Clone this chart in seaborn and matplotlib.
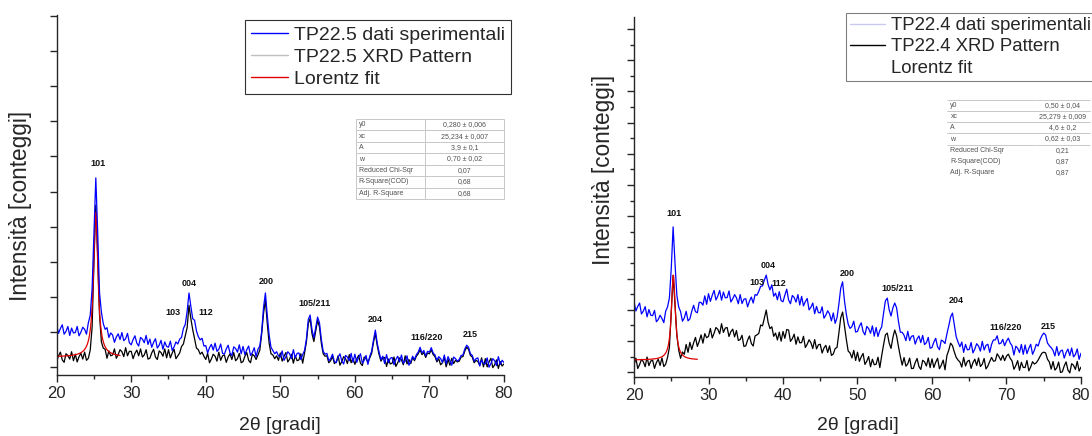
import numpy as np
import matplotlib
matplotlib.use("Agg")
import matplotlib.pyplot as plt
from matplotlib.lines import Line2D
import seaborn as sns

# ---------------------------------------------------------------- data
# 2-theta scan grid (degrees), 0.25 deg step
two_theta = np.round(np.arange(20.0, 80.0001, 0.25), 2)

# TP22.5 - experimental trace (blue)
tp225_exp = [
    1.06, 0.86, 0.98, 1.07, 0.84, 0.91, 1.03, 0.81, 0.99, 0.87,
    0.88, 1.03, 0.80, 0.89, 1.01, 0.96, 0.84, 1.12, 1.30, 1.95,
    3.30, 4.67, 3.35, 1.85, 1.38, 1.10, 0.96, 1.00, 0.76, 0.87,
    0.82, 0.64, 0.77, 0.85, 0.71, 0.88, 0.68, 0.73, 0.86, 0.63,
    0.58, 0.71, 0.80, 0.62, 0.55, 0.76, 0.72, 0.63, 0.81, 0.59,
    0.72, 0.52, 0.64, 0.73, 0.50, 0.57, 0.69, 0.47, 0.65, 0.54,
    0.52, 0.67, 0.44, 0.53, 0.65, 0.60, 0.72, 0.76, 0.98, 1.08,
    1.40, 1.85, 1.52, 1.22, 1.18, 0.92, 0.78, 0.70, 0.74, 0.55,
    0.56, 0.38, 0.51, 0.59, 0.45, 0.62, 0.42, 0.47, 0.60, 0.37,
    0.35, 0.48, 0.57, 0.38, 0.32, 0.53, 0.49, 0.40, 0.58, 0.36,
    0.54, 0.34, 0.46, 0.55, 0.32, 0.39, 0.51, 0.29, 0.47, 0.55,
    0.90, 1.50, 1.85, 1.30, 0.82, 0.52, 0.44, 0.36, 0.41, 0.31,
    0.28, 0.43, 0.20, 0.29, 0.41, 0.36, 0.24, 0.46, 0.26, 0.37,
    0.38, 0.22, 0.34, 0.44, 0.72, 1.20, 1.31, 0.95, 0.75, 1.00,
    1.26, 1.12, 0.72, 0.42, 0.35, 0.37, 0.19, 0.24, 0.35, 0.17,
    0.14, 0.27, 0.36, 0.18, 0.11, 0.32, 0.28, 0.19, 0.37, 0.15,
    0.35, 0.15, 0.27, 0.36, 0.13, 0.20, 0.32, 0.10, 0.30, 0.42,
    0.70, 0.94, 0.62, 0.40, 0.22, 0.30, 0.12, 0.34, 0.14, 0.25,
    0.27, 0.09, 0.22, 0.30, 0.16, 0.33, 0.13, 0.18, 0.31, 0.08,
    0.17, 0.30, 0.22, 0.34, 0.40, 0.52, 0.38, 0.44, 0.31, 0.42,
    0.40, 0.51, 0.38, 0.33, 0.20, 0.29, 0.24, 0.15, 0.33, 0.11,
    0.29, 0.19, 0.08, 0.28, 0.24, 0.18, 0.22, 0.32, 0.33, 0.48,
    0.57, 0.52, 0.36, 0.32, 0.18, 0.24, 0.26, 0.06, 0.21, 0.12,
    0.11, 0.26, 0.03, 0.12, 0.24, 0.19, 0.07, 0.29, 0.10, 0.20,
    0.15,
]

# TP22.5 - XRD pattern (black)
tp225_xrd = [
    0.18, 0.31, 0.40, 0.21, 0.15, 0.36, 0.32, 0.23, 0.41, 0.19,
    0.35, 0.16, 0.29, 0.37, 0.23, 0.40, 0.20, 0.25, 0.45, 1.00,
    2.60, 4.00, 2.80, 1.30, 0.65, 0.50, 0.47, 0.25, 0.43, 0.31,
    0.33, 0.48, 0.25, 0.34, 0.46, 0.41, 0.29, 0.51, 0.31, 0.42,
    0.42, 0.24, 0.37, 0.45, 0.31, 0.48, 0.28, 0.33, 0.46, 0.23,
    0.25, 0.38, 0.47, 0.28, 0.22, 0.43, 0.39, 0.30, 0.48, 0.26,
    0.46, 0.26, 0.38, 0.47, 0.24, 0.31, 0.38, 0.54, 0.60, 0.80,
    1.00, 1.55, 1.22, 0.95, 0.72, 0.50, 0.46, 0.35, 0.40, 0.30,
    0.22, 0.37, 0.14, 0.23, 0.35, 0.30, 0.18, 0.40, 0.20, 0.31,
    0.33, 0.15, 0.28, 0.36, 0.22, 0.39, 0.19, 0.24, 0.37, 0.14,
    0.17, 0.30, 0.39, 0.20, 0.14, 0.35, 0.31, 0.22, 0.33, 0.45,
    0.85, 1.35, 1.68, 1.10, 0.62, 0.36, 0.33, 0.24, 0.31, 0.20,
    0.38, 0.18, 0.30, 0.39, 0.16, 0.23, 0.35, 0.13, 0.31, 0.19,
    0.21, 0.36, 0.13, 0.38, 0.65, 1.10, 1.22, 0.85, 0.66, 0.92,
    1.18, 1.02, 0.62, 0.36, 0.30, 0.31, 0.14, 0.19, 0.30, 0.12,
    0.16, 0.31, 0.08, 0.17, 0.29, 0.24, 0.12, 0.34, 0.14, 0.25,
    0.10, 0.23, 0.32, 0.13, 0.07, 0.28, 0.24, 0.15, 0.26, 0.37,
    0.64, 0.86, 0.56, 0.34, 0.18, 0.26, 0.27, 0.05, 0.23, 0.11,
    0.13, 0.28, 0.05, 0.14, 0.26, 0.21, 0.09, 0.31, 0.11, 0.22,
    0.12, 0.27, 0.19, 0.30, 0.36, 0.46, 0.34, 0.39, 0.27, 0.38,
    0.36, 0.46, 0.34, 0.29, 0.16, 0.24, 0.09, 0.14, 0.27, 0.04,
    0.22, 0.08, 0.25, 0.12, 0.20, 0.16, 0.18, 0.28, 0.29, 0.43,
    0.52, 0.47, 0.32, 0.28, 0.14, 0.20, 0.17, 0.08, 0.26, 0.04,
    0.24, 0.04, 0.16, 0.25, 0.02, 0.09, 0.21, 0.00, 0.17, 0.06,
    0.11,
]

# TP22.4 - experimental trace (blue)
tp224_exp = [
    3.74, 3.23, 3.48, 3.67, 3.06, 3.22, 3.47, 2.90, 3.31, 2.99,
    2.97, 3.26, 2.63, 2.75, 2.99, 2.81, 2.58, 3.22, 3.45, 3.95,
    5.60, 7.90, 5.90, 4.10, 3.45, 3.19, 2.66, 2.84, 3.21, 2.68,
    2.79, 3.21, 3.54, 3.19, 3.13, 3.71, 3.70, 3.55, 4.07, 3.60,
    4.19, 3.76, 4.10, 4.37, 3.84, 4.06, 4.37, 3.83, 4.28, 3.96,
    3.97, 4.34, 3.73, 3.90, 4.14, 3.96, 3.63, 4.14, 3.64, 3.88,
    3.91, 3.46, 3.78, 4.00, 3.67, 4.14, 4.10, 4.32, 4.60, 4.62,
    4.95, 5.22, 4.70, 4.40, 4.68, 4.05, 4.22, 3.85, 4.30, 3.80,
    3.74, 4.11, 4.44, 3.84, 3.63, 4.09, 3.98, 3.72, 4.14, 3.56,
    4.04, 3.51, 3.75, 3.92, 3.29, 3.44, 3.67, 3.08, 3.48, 3.14,
    3.12, 3.46, 2.83, 3.00, 3.24, 3.06, 2.68, 3.12, 2.54, 2.85,
    3.60, 4.50, 4.85, 3.80, 3.05, 2.50, 2.26, 2.36, 2.66, 2.06,
    2.09, 2.38, 2.57, 2.09, 1.90, 2.37, 2.25, 1.99, 2.40, 1.83,
    2.31, 1.81, 2.15, 2.35, 3.10, 3.80, 3.94, 3.30, 2.95, 3.40,
    3.67, 3.40, 2.65, 2.05, 2.04, 1.88, 1.58, 2.10, 1.59, 1.82,
    1.86, 1.39, 1.68, 1.84, 1.47, 1.87, 1.36, 1.47, 1.76, 1.16,
    1.20, 1.50, 1.71, 1.24, 1.08, 1.61, 1.55, 1.42, 1.95, 2.40,
    2.90, 3.11, 2.45, 1.80, 1.50, 1.24, 1.50, 0.93, 1.37, 1.07,
    1.09, 1.48, 0.90, 1.12, 1.41, 1.28, 1.00, 1.54, 1.06, 1.32,
    1.38, 0.93, 1.38, 1.62, 1.62, 1.85, 1.40, 1.44, 1.65, 1.30,
    1.55, 1.72, 1.45, 1.30, 0.78, 1.27, 1.16, 0.92, 1.37, 0.82,
    1.34, 0.86, 1.15, 1.38, 0.82, 1.06, 1.38, 1.28, 1.62, 1.85,
    2.00, 1.90, 1.45, 1.30, 1.19, 1.04, 0.73, 1.25, 0.76, 1.00,
    1.06, 0.61, 0.92, 1.11, 0.75, 1.17, 0.68, 0.81, 1.12, 0.54,
    0.88,
]

# TP22.4 - XRD pattern (black)
tp224_xrd = [
    0.22, 0.61, 0.03, 0.25, 0.54, 0.41, 0.13, 0.67, 0.19, 0.45,
    0.49, 0.04, 0.36, 0.55, 0.20, 0.62, 0.14, 0.27, 0.65, 1.20,
    3.20, 5.20, 3.60, 1.90, 1.05, 0.60, 0.95, 0.82, 1.37, 0.93,
    1.49, 1.09, 1.46, 1.76, 1.26, 1.54, 1.90, 1.44, 1.97, 1.74,
    1.82, 2.26, 1.73, 2.00, 2.31, 2.21, 1.96, 2.52, 2.04, 2.28,
    2.31, 1.81, 2.08, 2.22, 1.79, 2.14, 1.59, 1.64, 1.88, 1.26,
    1.29, 1.61, 1.84, 1.42, 1.28, 1.84, 1.90, 1.98, 2.45, 2.40,
    2.85, 3.28, 2.60, 2.25, 2.35, 1.82, 2.00, 1.62, 2.05, 1.55,
    2.09, 1.71, 2.20, 2.17, 1.54, 1.69, 1.94, 1.38, 1.79, 1.46,
    1.47, 1.82, 1.20, 1.38, 1.63, 1.46, 1.14, 1.64, 1.12, 1.35,
    1.38, 0.89, 1.17, 1.32, 0.92, 1.29, 0.76, 0.84, 1.14, 1.20,
    2.00, 2.85, 3.17, 2.40, 1.65, 1.00, 0.90, 0.62, 1.04, 0.48,
    0.94, 0.43, 0.68, 0.87, 0.26, 0.44, 0.70, 0.13, 0.55, 0.24,
    0.27, 0.66, 0.08, 0.75, 1.35, 1.90, 2.00, 1.45, 1.15, 1.75,
    2.17, 1.85, 1.25, 0.70, 0.22, 0.64, 0.16, 0.29, 0.61, 0.03,
    0.04, 0.36, 0.59, 0.14, -0.02, 0.49, 0.40, 0.17, 0.62, 0.08,
    0.57, 0.09, 0.38, 0.60, 0.02, 0.22, 0.50, -0.04, 0.75, 1.05,
    1.44, 1.30, 0.95, 0.65, 0.50, 0.39, 0.11, 0.65, 0.17, 0.43,
    0.49, 0.04, 0.36, 0.55, 0.20, 0.62, 0.14, 0.27, 0.59, 0.01,
    0.17, 0.42, 0.65, 0.44, 0.46, 0.85, 0.69, 0.49, 0.77, 0.47,
    0.72, 0.83, 0.60, 0.45, -0.01, 0.19, 0.47, -0.07, 0.38, 0.09,
    0.09, 0.48, -0.10, 0.12, 0.41, 0.28, 0.35, 0.50, 0.70, 0.88,
    0.94, 0.90, 0.55, 0.40, 0.00, 0.42, -0.06, 0.07, 0.39, -0.19,
    -0.15, 0.17, 0.40, -0.05, -0.21, 0.30, 0.21, -0.02, 0.43, -0.11,
    0.11,
]

for _s in (tp225_exp, tp225_xrd, tp224_exp, tp224_xrd):
    assert len(_s) == len(two_theta)

# Lorentz fit of the anatase (101) reflection
fit_rows = ["y0", "xc", "A", "w", "Reduced Chi-Sqr", "R-Square(COD)", "Adj. R-Square"]
fit225_params = {"y0": 0.280, "xc": 25.234, "A": 3.9, "w": 0.70}
fit225_text = ["0,280 \u00b1 0,006", "25,234 \u00b1 0,007", "3,9 \u00b1 0,1",
               "0,70 \u00b1 0,02", "0,07", "0,68", "0,68"]
fit224_params = {"y0": 0.50, "xc": 25.279, "A": 4.6, "w": 0.62}
fit224_text = ["0,50 \u00b1 0,04", "25,279 \u00b1 0,009", "4,6 \u00b1 0,2",
               "0,62 \u00b1 0,03", "0,21", "0,87", "0,87"]
fit_range = (20.0, 28.5)

# Miller indices of the anatase reflections
hkl = ["101", "004", "103", "112", "200", "105/211", "204", "116/220", "215"]

legend225 = ["TP22.5 dati sperimentali", "TP22.5 XRD Pattern", "Lorentz fit"]
legend224 = ["TP22.4 dati sperimentali", "TP22.4 XRD Pattern", "Lorentz fit"]

# ---------------------------------------------------------------- style
sns.set_style("ticks")
plt.rcParams["font.family"] = ["Liberation Sans", "DejaVu Sans"]
plt.rcParams["axes.linewidth"] = 1.0

BLUE = "#0000ff"
BLACK = "#000000"
RED = "#e00000"
TRACE_LW = 0.9


def lorentz(x, y0, xc, A, w):
    return y0 + (2.0 * A / np.pi) * w / (4.0 * (x - xc) ** 2 + w ** 2)


def style_axes(ax, ylim, yticks, yminor=None):
    ax.set_xlim(20, 80)
    ax.set_ylim(*ylim)
    ax.set_xticks(np.arange(20, 81, 10))
    ax.set_xticks(np.arange(25, 80, 10), minor=True)
    ax.set_yticks(yticks)
    ax.set_yticklabels([])
    if yminor is not None:
        ax.set_yticks(yminor, minor=True)
    ax.tick_params(axis="both", which="major", direction="out", length=5,
                   width=1, labelsize=12, pad=3)
    ax.tick_params(axis="both", which="minor", direction="out", length=3,
                   width=1)
    sns.despine(ax=ax)


def draw_table(ax, bbox, col_frac, values, ruled):
    tbl = ax.table(cellText=[[n, v] for n, v in zip(fit_rows, values)],
                   colWidths=[col_frac, 1 - col_frac], bbox=bbox,
                   cellLoc="left", zorder=5)
    tbl.auto_set_font_size(False)
    tbl.set_fontsize(5)
    for (r, c), cell in tbl.get_celld().items():
        cell.set_edgecolor("#c8c8c8")
        cell.set_linewidth(0.7)
        cell.set_facecolor("white")
        cell.get_text().set_color("#505050")
        cell.PAD = 0.04
        if c == 1:
            cell.get_text().set_ha("center")
            cell._loc = "center"
        mode = ruled(r)
        if not mode:
            cell.visible_edges = ""
        elif mode == "h":
            cell.visible_edges = "horizontal"
    return tbl


def label_peaks(ax, spots):
    for lab, (x, y) in zip(hkl, spots):
        ax.text(x, y, lab, fontsize=6.5, fontweight="bold", ha="center",
                va="center", color="#111111")


def add_legend(ax, handles, labels, anchor, edge, size, pad):
    leg = ax.legend(handles, labels, loc="upper left", bbox_to_anchor=anchor,
                    borderaxespad=0, fontsize=size, frameon=True,
                    fancybox=False, edgecolor=edge, framealpha=1,
                    handlelength=1.9, handletextpad=0.3, labelspacing=0.23,
                    borderpad=pad)
    leg.get_frame().set_linewidth(0.8)
    return leg


fig = plt.figure(figsize=(10.92, 4.36), dpi=100)
axL = fig.add_axes([0.0519, 0.1399, 0.4096, 0.8257])
axR = fig.add_axes([0.5806, 0.1353, 0.4093, 0.8257])

xfit = np.linspace(*fit_range, 400)

# ---- left panel: TP22.5
sns.lineplot(x=two_theta, y=tp225_xrd, color=BLACK, lw=TRACE_LW, ax=axL)
sns.lineplot(x=xfit, y=lorentz(xfit, **fit225_params), color=RED, lw=0.9, ax=axL)
sns.lineplot(x=two_theta, y=tp225_exp, color=BLUE, lw=TRACE_LW, ax=axL)
style_axes(axL, (-0.16, 8.66), 0.035 + 0.86 * np.arange(11))
label_peaks(axL, [(25.5, 5.01), (37.8, 2.07), (35.6, 1.36), (40.0, 1.36),
                  (48.06, 2.12), (54.6, 1.60), (62.8, 1.21), (69.6, 0.75),
                  (75.5, 0.84)])
draw_table(axL, [0.669, 0.489, 0.331, 0.222], 0.47, fit225_text,
           lambda r: "all")
add_legend(axL,
           [Line2D([], [], color=BLUE, lw=1.0),
            Line2D([], [], color="#c0c0c0", lw=1.0),
            Line2D([], [], color=RED, lw=1.0)],
           legend225, (0.421, 0.986), "#303030", 14, 0.32)

# ---- right panel: TP22.4
sns.lineplot(x=two_theta, y=tp224_exp, color=BLUE, lw=TRACE_LW, ax=axR)
sns.lineplot(x=two_theta, y=tp224_xrd, color=BLACK, lw=TRACE_LW, ax=axR)
sns.lineplot(x=xfit, y=lorentz(xfit, **fit224_params), color=RED, lw=0.9, ax=axR)
style_axes(axR, (-0.44, 19.56), -0.17 + 1.733 * np.arange(12),
           -0.17 + 0.8665 + 1.733 * np.arange(11))
label_peaks(axR, [(25.4, 8.67), (38.0, 5.78), (36.5, 4.83), (39.4, 4.78),
                  (48.6, 5.33), (55.4, 4.5), (63.3, 3.83), (69.9, 2.33),
                  (75.6, 2.39)])
draw_table(axR, [0.70, 0.553, 0.32, 0.216], 0.62, fit224_text,
           lambda r: "h" if r <= 3 else "")
add_legend(axR,
           [Line2D([], [], color="#c8c8f0", lw=1.0),
            Line2D([], [], color=BLACK, lw=1.0),
            Line2D([], [], color="white", lw=1.0)],
           legend224, (0.474, 1.011), "#808080", 13.4, 0.22)

for ax, lx, ly, xy in ((axL, -0.056, 0.47, -0.117), (axR, -0.043, 0.575, -0.112)):
    ax.set_ylabel("Intensit\u00e0 [conteggi]", fontsize=16.3)
    ax.yaxis.set_label_coords(lx, ly)
    ax.set_xlabel("2\u03b8 [gradi]", fontsize=14)
    ax.xaxis.set_label_coords(0.5, xy)

fig.savefig("out.png", dpi=100)
